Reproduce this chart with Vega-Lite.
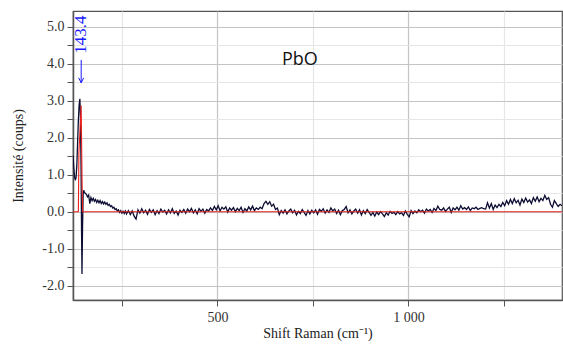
{
  "$schema": "https://vega.github.io/schema/vega-lite/v6.json",
  "autosize": {"type": "none"},
  "padding": {"left": 73, "top": 11, "right": 1, "bottom": 45},
  "width": 489,
  "height": 289,
  "background": "white",
  "config": {
    "view": {"stroke": "#555", "strokeWidth": 1.2},
    "axis": {
      "labelFont": "Liberation Serif", "labelFontSize": 14, "labelColor": "#333",
      "titleFont": "Liberation Serif", "titleFontSize": 14, "titleColor": "#222", "titleFontWeight": "normal",
      "domainColor": "#555", "domainWidth": 1.5, "tickColor": "#555", "tickSize": 6, "tickWidth": 1
    }
  },
  "datasets": {
    "spec": [
      {"x":122,"y":1.52},{"x":124,"y":1.2},{"x":126,"y":0.95},{"x":128,"y":0.85},{"x":130,"y":0.92},{"x":132,"y":1.25},{"x":134,"y":1.85},{"x":136,"y":2.45},{"x":138,"y":2.88},{"x":140,"y":3.05},{"x":141.5,"y":2.6},{"x":143,"y":1.3},{"x":144.5,"y":-0.6},{"x":145.5,"y":-1.68},{"x":147,"y":-0.4},{"x":148.5,"y":0.45},{"x":150,"y":0.58},{"x":152,"y":0.52},
      {"x":154,"y":0.5},{"x":157,"y":0.47},{"x":160,"y":0.4},{"x":163,"y":0.45},{"x":166,"y":0.22},{"x":169,"y":0.38},{"x":172,"y":0.3},{"x":175,"y":0.36},{"x":178,"y":0.28},{"x":181,"y":0.33},{"x":184,"y":0.25},{"x":187,"y":0.31},{"x":190,"y":0.24},{"x":193,"y":0.3},{"x":196,"y":0.22},{"x":199,"y":0.27},{"x":202,"y":0.21},{"x":205,"y":0.26},{"x":208,"y":0.2},{"x":211,"y":0.24},{"x":214,"y":0.17},{"x":217,"y":0.2},{"x":220,"y":0.14},{"x":223,"y":0.16},{"x":226,"y":0.1},{"x":229,"y":0.12},{"x":232,"y":0.06},{"x":235,"y":0.08},{"x":238,"y":0.02},{"x":241,"y":0.05},{"x":244,"y":-0.02},{"x":247,"y":0.03},{"x":250,"y":-0.04},{"x":253,"y":0.01},{"x":256,"y":-0.05},{"x":259,"y":0.02},
      {"x":262,"y":-0.06},{"x":267,"y":0.03},{"x":272,"y":-0.08},{"x":277,"y":0.02},{"x":282,"y":-0.12},{"x":287,"y":-0.2},{"x":292,"y":0.05},{"x":297,"y":-0.04},{"x":302,"y":0.08},{"x":307,"y":-0.03},{"x":312,"y":0.04},{"x":317,"y":-0.07},{"x":322,"y":0.06},{"x":327,"y":-0.02},{"x":332,"y":0.05},{"x":337,"y":-0.08},{"x":342,"y":0.03},{"x":347,"y":-0.05},{"x":352,"y":0.07},{"x":357,"y":-0.01},{"x":362,"y":0.04},{"x":367,"y":-0.06},{"x":372,"y":0.05},{"x":377,"y":-0.03},{"x":382,"y":0.08},{"x":387,"y":-0.05},{"x":392,"y":0.02},{"x":397,"y":-0.09},{"x":402,"y":0.04},{"x":407,"y":-0.02},{"x":412,"y":0.06},{"x":417,"y":-0.04},{"x":422,"y":0.07},{"x":427,"y":0.0},{"x":432,"y":0.09},{"x":437,"y":-0.03},{"x":442,"y":0.05},{"x":447,"y":-0.06},{"x":452,"y":0.08},{"x":457,"y":0.01},{"x":462,"y":0.07},{"x":467,"y":-0.04},{"x":472,"y":0.06},{"x":477,"y":0.02},{"x":482,"y":0.1},
      {"x":487,"y":0.03},{"x":492,"y":0.14},{"x":497,"y":0.05},{"x":502,"y":0.16},{"x":507,"y":0.02},{"x":512,"y":0.12},{"x":517,"y":0.07},{"x":522,"y":0.13},{"x":527,"y":-0.01},{"x":532,"y":0.1},{"x":537,"y":0.04},{"x":542,"y":0.11},{"x":547,"y":0.0},{"x":552,"y":0.09},{"x":557,"y":0.03},{"x":562,"y":0.12},{"x":567,"y":-0.02},{"x":572,"y":0.08},{"x":577,"y":0.02},{"x":582,"y":0.13},{"x":587,"y":0.05},{"x":592,"y":0.15},{"x":597,"y":0.03},{"x":602,"y":0.1},{"x":607,"y":0.06},
      {"x":612,"y":0.12},{"x":617,"y":0.08},{"x":622,"y":0.22},{"x":627,"y":0.28},{"x":632,"y":0.2},{"x":637,"y":0.27},{"x":642,"y":0.15},{"x":647,"y":0.2},{"x":652,"y":0.06},{"x":657,"y":0.1},
      {"x":662,"y":-0.08},{"x":667,"y":0.03},{"x":672,"y":-0.04},{"x":677,"y":0.05},{"x":682,"y":-0.06},{"x":687,"y":0.02},{"x":692,"y":0.07},{"x":697,"y":-0.03},{"x":702,"y":0.04},{"x":707,"y":-0.09},{"x":712,"y":0.01},{"x":717,"y":-0.05},{"x":722,"y":0.06},{"x":727,"y":-0.02},{"x":732,"y":-0.1},{"x":737,"y":0.03},{"x":742,"y":-0.06},{"x":747,"y":0.04},{"x":752,"y":-0.03},{"x":757,"y":0.05},
      {"x":762,"y":-0.07},{"x":767,"y":0.06},{"x":772,"y":0.01},{"x":777,"y":0.08},{"x":782,"y":-0.04},{"x":787,"y":0.05},{"x":792,"y":-0.02},{"x":797,"y":0.1},{"x":802,"y":0.02},{"x":807,"y":0.07},{"x":812,"y":-0.05},{"x":817,"y":0.04},{"x":822,"y":-0.08},{"x":827,"y":0.03},{"x":832,"y":0.06},{"x":837,"y":0.14},{"x":842,"y":-0.03},{"x":847,"y":0.05},{"x":852,"y":-0.06},{"x":857,"y":0.02},{"x":862,"y":0.07},{"x":867,"y":-0.04},{"x":872,"y":0.05},{"x":877,"y":-0.09},{"x":882,"y":0.03},{"x":887,"y":-0.05},{"x":892,"y":0.06},{"x":897,"y":-0.02},
      {"x":902,"y":-0.1},{"x":907,"y":-0.02},{"x":912,"y":-0.12},{"x":917,"y":-0.01},{"x":922,"y":-0.08},{"x":927,"y":0.0},{"x":932,"y":-0.06},{"x":937,"y":-0.13},{"x":942,"y":-0.03},{"x":947,"y":-0.09},{"x":952,"y":0.01},{"x":957,"y":-0.05},{"x":962,"y":-0.02},{"x":967,"y":-0.08},{"x":972,"y":0.0},{"x":977,"y":-0.06},{"x":982,"y":-0.03},{"x":987,"y":-0.1},{"x":992,"y":0.02},{"x":997,"y":-0.07},
      {"x":1002,"y":-0.14},{"x":1007,"y":0.03},{"x":1012,"y":-0.05},{"x":1017,"y":0.02},{"x":1022,"y":-0.03},{"x":1027,"y":0.05},{"x":1032,"y":0.0},{"x":1037,"y":0.04},{"x":1042,"y":-0.04},{"x":1047,"y":0.07},{"x":1052,"y":0.02},{"x":1057,"y":0.06},{"x":1062,"y":-0.02},{"x":1067,"y":0.09},{"x":1072,"y":0.03},{"x":1077,"y":0.15},{"x":1082,"y":0.06},{"x":1087,"y":0.04},{"x":1092,"y":0.1},{"x":1097,"y":0.01},
      {"x":1102,"y":0.07},{"x":1107,"y":0.12},{"x":1112,"y":-0.02},{"x":1117,"y":0.1},{"x":1122,"y":0.05},{"x":1127,"y":0.12},{"x":1132,"y":0.04},{"x":1137,"y":0.16},{"x":1142,"y":0.07},{"x":1147,"y":0.11},{"x":1152,"y":0.06},{"x":1157,"y":0.13},{"x":1162,"y":0.03},{"x":1167,"y":0.1},{"x":1172,"y":0.08},{"x":1177,"y":0.12},{"x":1182,"y":0.06},{"x":1187,"y":0.09},{"x":1192,"y":0.11},{"x":1197,"y":0.08},
      {"x":1202,"y":0.07},{"x":1207,"y":0.24},{"x":1212,"y":0.1},{"x":1217,"y":0.22},{"x":1222,"y":0.06},{"x":1227,"y":0.18},{"x":1232,"y":0.11},{"x":1237,"y":0.2},{"x":1242,"y":0.14},{"x":1247,"y":0.25},
      {"x":1252,"y":0.16},{"x":1257,"y":0.3},{"x":1262,"y":0.2},{"x":1267,"y":0.33},{"x":1272,"y":0.22},{"x":1277,"y":0.35},{"x":1282,"y":0.24},{"x":1287,"y":0.31},{"x":1292,"y":0.18},{"x":1297,"y":0.34},{"x":1302,"y":0.25},{"x":1307,"y":0.37},{"x":1312,"y":0.26},{"x":1317,"y":0.32},{"x":1322,"y":0.22},{"x":1327,"y":0.38},{"x":1332,"y":0.28},{"x":1337,"y":0.4},{"x":1342,"y":0.27},{"x":1347,"y":0.36},{"x":1352,"y":0.3},{"x":1357,"y":0.44},{"x":1362,"y":0.33},{"x":1367,"y":0.38},{"x":1372,"y":0.2},{"x":1377,"y":0.12},{"x":1382,"y":0.3},{"x":1387,"y":0.22},{"x":1392,"y":0.14},{"x":1397,"y":0.2},{"x":1402,"y":0.16}
    ],
    "fit": [
      {"x":122,"y":0},{"x":136,"y":0},{"x":137.5,"y":1.6},{"x":143.4,"y":2.87},{"x":146,"y":0.6},{"x":147.5,"y":0},{"x":1402,"y":0}
    ],
    "arrow": [{"x":143.4,"y":4.1,"y2":3.48}],
    "head": [{"x":143.4,"y":3.48}],
    "peak": [{"x":143.4,"y":4.78,"label":"143.4"}],
    "name": [{"x":716,"y":4.1,"label":"PbO"}]
  },
  "encoding": {
    "x": {
      "field": "x", "type": "quantitative",
      "scale": {"domain": [122, 1402], "nice": false, "zero": false},
      "axis": {
        "title": "Shift Raman (cm⁻¹)",
        "values": [250, 500, 750, 1000, 1250],
        "labelExpr": "datum.value % 500 === 0 ? replace(format(datum.value, ','), ',', ' ') : ''",
        "labelPadding": 4,
        "grid": true,
        "gridColor": {"condition": {"test": "datum.value % 500 === 0", "value": "#c4c4c4"}, "value": "#e6e6e6"},
        "gridWidth": 1.2,
        "titleY": 33, "titleBaseline": "middle"
      }
    },
    "y": {
      "field": "y", "type": "quantitative",
      "scale": {"domain": [-2.385, 5.42], "nice": false, "zero": false},
      "axis": {
        "title": "Intensité (coups)",
        "values": [-2, -1.5, -1, -0.5, 0, 0.5, 1, 1.5, 2, 2.5, 3, 3.5, 4, 4.5, 5],
        "labelExpr": "datum.value % 1 === 0 ? replace(format(datum.value, '.1f'), '−', '-') : ''",
        "labelPadding": 3,
        "grid": true,
        "gridColor": {"condition": {"test": "datum.value % 1 === 0", "value": "#c4c4c4"}, "value": "#e6e6e6"},
        "gridWidth": 1.2,
        "titleAngle": -90, "titleX": -55, "titleY": 144.5, "titleBaseline": "middle", "titleAlign": "center"
      }
    }
  },
  "layer": [
    {"data": {"name": "spec"}, "mark": {"type": "line", "color": "#0d0d33", "strokeWidth": 1.3, "clip": true}},
    {"data": {"name": "fit"}, "mark": {"type": "line", "color": "#e8211d", "strokeWidth": 1.1, "clip": true}},
    {"data": {"name": "arrow"}, "mark": {"type": "rule", "color": "#1a1aff", "strokeWidth": 1}, "encoding": {"y2": {"field": "y2"}}},
    {"data": {"name": "head"}, "mark": {"type": "point", "shape": "M -0.5 -1 L 0 0 L 0.5 -1", "filled": false, "stroke": "#1a1aff", "strokeWidth": 1, "size": 100, "opacity": 1}},
    {"data": {"name": "peak"}, "mark": {"type": "text", "angle": 270, "align": "center", "baseline": "middle", "font": "Liberation Serif", "fontSize": 17, "color": "#1a1aff"}, "encoding": {"text": {"field": "label"}}},
    {"data": {"name": "name"}, "mark": {"type": "text", "align": "center", "baseline": "middle", "font": "Open Sans", "fontSize": 18, "color": "#111"}, "encoding": {"text": {"field": "label"}}}
  ]
}
